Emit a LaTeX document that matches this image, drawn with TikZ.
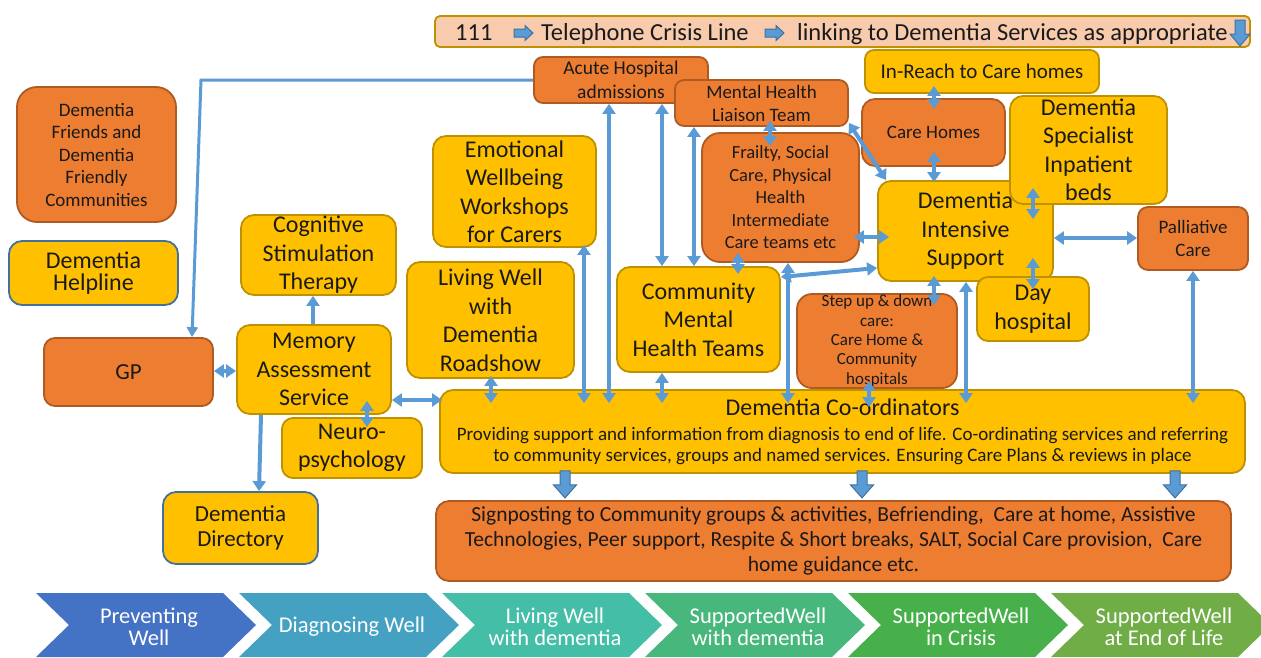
\documentclass[tikz,border=0pt]{standalone}
\usepackage{fontspec}
\setmainfont{Carlito}
\usetikzlibrary{arrows.meta,calc}

\definecolor{ygold}{HTML}{FFC000}
\definecolor{ygoldline}{HTML}{BF9000}
\definecolor{orng}{HTML}{ED7D31}
\definecolor{orngline}{HTML}{AE5A21}
\definecolor{lnk}{HTML}{5B9BD5}
\definecolor{lnkdark}{HTML}{41719C}
\definecolor{peach}{HTML}{F8CBAD}
\definecolor{txt}{HTML}{1A1A1A}
\definecolor{chv1}{HTML}{4472C4}
\definecolor{chv2}{HTML}{45A1C2}
\definecolor{chv3}{HTML}{45BEA8}
\definecolor{chv4}{HTML}{48B77B}
\definecolor{chv5}{HTML}{47B04B}
\definecolor{chv6}{HTML}{70AD47}

\newcommand\fntL{\fontsize{24}{28.5}\selectfont}
\newcommand\fntM{\fontsize{19}{22.5}\selectfont}
\newcommand\fntS{\fontsize{17}{19.3}\selectfont}
\newcommand\fntT{\fontsize{24.5}{28}\selectfont}
\newcommand\fntC{\fontsize{22.5}{22}\selectfont}

\begin{document}
\begin{tikzpicture}[x=1pt,y=-1pt,
  box/.style={rounded corners=13pt, line width=1.8pt, align=center, inner sep=0pt, text=txt},
  ybox/.style={box, fill=ygold, draw=ygoldline},
  obox/.style={box, fill=orng, draw=orngline},
  bbox/.style={box, fill=ygold, draw=lnkdark},
  wh/.style 2 args={minimum width=#1pt, minimum height=#2pt},
  lk/.style={draw=lnk, line width=4pt, {Triangle[width=13pt,length=10pt]}-{Triangle[width=13pt,length=10pt]}},
  lkone/.style={draw=lnk, line width=4pt, -{Triangle[width=13pt,length=10pt]}},
  lkthin/.style={draw=lnk, line width=3pt, -{Triangle[width=11pt,length=10pt]}},
  ext/.style 2 args={shorten <=-#1pt, shorten >=-#2pt},
  blockfill/.style={fill=lnk, draw=lnkdark, line width=1pt, line join=miter},
  % fat downward arrow, drawn from its tail centre
  downblk/.pic={\path[blockfill] (-5,0) -- (5,0) -- (5,14) -- (11.5,14) -- (0,27) -- (-11.5,14) -- (-5,14) -- cycle;},
  % banner arrows
  bardown/.pic={\path[blockfill] (-5,0) -- (5,0) -- (5,14) -- (10,14) -- (0,26) -- (-10,14) -- (-5,14) -- cycle;},
  barright/.pic={\path[blockfill] (-9.5,-4) -- (1.5,-4) -- (1.5,-7.5) -- (9.5,0) -- (1.5,7.5) -- (1.5,4) -- (-9.5,4) -- cycle;},
  chevtext/.style={text=white, font=\fntC, align=center}
]
\useasboundingbox (0,0) rectangle (1261,657);

% ---- crisis line banner ----
\node[draw=ygoldline, fill=peach, rounded corners=5pt, line width=1.8pt, wh={815}{31}, inner sep=0pt] (bar) at (842.5,31.5) {};
\node[font=\fntT, anchor=base west, inner sep=0pt, text=txt] (t111) at (455,40) {111};
\pic at (523.5,33) {barright};
\node[font=\fntT, anchor=base west, inner sep=0pt, text=txt] (tline) at (541,40) {Telephone Crisis Line};
\pic at (774.5,33) {barright};
\node[font=\fntT, anchor=base west, inner sep=0pt, text=txt] (tlink) at (797,40) {linking to Dementia Services as appropriate};
\pic at (1240,20) {bardown};

% ---- service boxes ----
\node[ybox, wh={234}{43}, rounded corners=9pt, font=\fontsize{21}{24}\selectfont] (inreach) at (982,71.5) {In-Reach to Care homes};
\node[obox, wh={174}{46}, rounded corners=9pt, font=\fontsize{19.5}{23.5}\selectfont] (acute) at (621,80) {Acute Hospital\\admissions};
\node[obox, wh={173}{46}, rounded corners=9pt, font=\fontsize{19}{23}\selectfont] (mhlt) at (761.5,103) {Mental Health\\Liaison Team};
\node[obox, wh={143}{67}, font=\fntM] (carehomes) at (933.5,132.5) {Care Homes};
\node[ybox, wh={175}{100}, font=\fntL] (dis) at (965.5,231) {Dementia\\Intensive\\Support};
\node[ybox, wh={157}{108}, font=\fntL] (beds) at (1088.5,150) {Dementia\\Specialist\\Inpatient\\beds};
\node[ybox, wh={112}{64}, font=\fntL, rounded corners=11pt] (day) at (1033,309) {Day\\hospital};
\node[obox, wh={110}{63}, font=\fntM, rounded corners=10pt] (pall) at (1193,238.5) {Palliative\\Care};
\node[obox, wh={157}{129}, rounded corners=18pt, font=\fontsize{18.5}{22.5}\selectfont] (frailty) at (780.5,197.5) {Frailty, Social\\Care, Physical\\Health\\Intermediate\\Care teams etc};
\node[obox, wh={160}{94}, rounded corners=15pt, font=\fntS] (stepup) at (877,341) {Step up \& down\\care:\\Care Home \&\\Community\\hospitals};
\node[ybox, wh={163}{105}, font=\fntL] (cmht) at (698.5,319.5) {Community\\Mental\\Health Teams};
\node[ybox, wh={163}{111}, font=\fntL] (emo) at (514.5,191.5) {Emotional\\Wellbeing\\Workshops\\for Carers};
\node[ybox, wh={167}{116}, font=\fntL] (living) at (490.5,320) {Living Well\\with\\Dementia\\Roadshow};
\node[ybox, wh={155}{80}, font=\fntL] (cst) at (318.5,255) {Cognitive\\Stimulation\\Therapy};
\node[ybox, wh={154}{89}, font=\fntL] (mem) at (314,369.5) {Memory\\Assessment\\Service};
\node[ybox, wh={140}{60}, font=\fntL, rounded corners=11pt] (neuro) at (352,448) {Neuro-\\psychology};
\node[obox, wh={169}{68}, font=\fontsize{23}{26}\selectfont, rounded corners=11pt] (gp) at (128.5,372) {GP};
\node[obox, wh={159}{135}, rounded corners=20pt, font=\fontsize{19}{22.5}\selectfont] (friends) at (96.5,154.5) {Dementia\\Friends and\\Dementia\\Friendly\\Communities};
\node[bbox, wh={169}{64}, font=\fontsize{24}{22}\selectfont] (helpline) at (93.5,273) {Dementia\\Helpline};
\node[bbox, wh={155}{72}, font=\fontsize{23}{25}\selectfont] (directory) at (240.5,528) {Dementia\\Directory};
\node[ybox, wh={805}{83}, font=\fontsize{19}{20.5}\selectfont] (coord) at (842.5,431.5) {{\fntL Dementia Co-ordinators}\\[5pt]Providing support and information from diagnosis to end of life. Co-ordinating services and referring\\to community services, groups and named services. Ensuring Care Plans \& reviews in place};
\node[obox, wh={795}{80}, font=\fontsize{21.5}{25}\selectfont] (sign) at (833.5,541) {Signposting to Community groups \& activities, Befriending,\ \ Care at home, Assistive\\Technologies, Peer support, Respite \& Short breaks, SALT, Social Care provision,\ \ Care\\home guidance etc.};

% ---- connector columns and rows ----
\foreach \v in {192,259,261,313,367,491,565,584,609,662,694,738,770,788,862,869,934,966,1033,1175,1193}
  \coordinate (cx\v) at (\v,0);
\foreach \v in {237,238,268,277,371,400}
  \coordinate (cy\v) at (0,\v);
\coordinate (gpbend) at (201,80);

% ---- connectors ----
\draw[lkthin] (acute.west) -- (gpbend) -- (gp.north -| cx192);
\draw[lk, ext={0}{14}] (acute.south -| cx609) -- (coord.north -| cx609);
\draw[lk] (acute.south -| cx662) -- (cmht.north -| cx662);
\draw[lk] (mhlt.south -| cx694) -- (cmht.north -| cx694);
\draw[lk, ext={6}{14}] (mhlt.south -| cx770) -- (frailty.north -| cx770);
\draw[lk] ([yshift=4pt]mhlt.south east) -- ([xshift=9pt]dis.north west);
\draw[lk, ext={6}{12}] (frailty.east |- cy237) -- (dis.west |- cy237);
\draw[lk, ext={10}{8}] (frailty.south -| cx738) -- (cmht.north -| cx738);
\draw[lk, ext={0}{14}] (frailty.south -| cx788) -- (coord.north -| cx788);
\draw[lk] (cmht.east |- cy277) -- (dis.west |- cy268);
\draw[lk, ext={6}{12}] (dis.south -| cx934) -- (stepup.north -| cx934);
\draw[lk, ext={0}{14}] (dis.south -| cx966) -- (coord.north -| cx966);
\draw[lk, ext={8}{18}] (stepup.south -| cx869) -- (coord.north -| cx869);
\draw[lk, ext={8}{11}] (inreach.south -| cx934) -- (carehomes.north -| cx934);
\draw[lk, ext={15}{2}] (carehomes.south -| cx934) -- (dis.north -| cx934);
\draw[lk] ($(beds.south -| cx1033)+(0,-17)$) -- ($(dis.north -| cx1033)+(0,39)$);
\draw[lk] ($(dis.south -| cx1033)+(0,-24)$) -- ($(day.north -| cx1033)+(0,13)$);
\draw[lk] (dis.east |- cy238) -- (pall.west |- cy238);
\draw[lk, ext={0}{14}] (pall.south -| cx1193) -- (coord.north -| cx1193);
\draw[lk, ext={0}{14}] (cmht.south -| cx662) -- (coord.north -| cx662);
\draw[lk, ext={3}{14}] (living.south -| cx491) -- (coord.north -| cx491);
\draw[lk, ext={3}{14}] (emo.south -| cx584) -- (coord.north -| cx584);
\draw[lk, ext={0}{3}] (mem.east |- cy400) -- (coord.west |- cy400);
\draw[lk, ext={14}{10}] (mem.south -| cx367) -- (neuro.north -| cx367);
\draw[lkone] (mem.north -| cx313) -- (cst.south -| cx313);
\draw[lk] (gp.east |- cy371) -- (mem.west |- cy371);
\draw[lkone] (mem.south -| cx261) -- (directory.north -| cx259);

% ---- block arrows into signposting ----
\foreach \bx in {cx565,cx862,cx1175}
  \pic at ($(coord.south -| \bx)+(0,-3)$) {downblk};

% ---- pathway chevrons ----
\foreach \i/\col/\lbl in {0/chv1/{Preventing\\Well}, 1/chv2/{Diagnosing Well}, 2/chv3/{Living Well\\with dementia}, 3/chv4/{SupportedWell\\with dementia}, 4/chv5/{SupportedWell\\in Crisis}, 5/chv6/{SupportedWell\\at End of Life}}{
  \pgfmathsetmacro\cxx{36+203*\i}
  \fill[\col] (\cxx,593) -- (\cxx+187,593) -- (\cxx+220,625) -- (\cxx+187,657) -- (\cxx,657) -- (\cxx+33,625) -- cycle;
  \node[chevtext] (chev\i) at (\cxx+113,627) {\lbl};
}
\end{tikzpicture}
\end{document}
